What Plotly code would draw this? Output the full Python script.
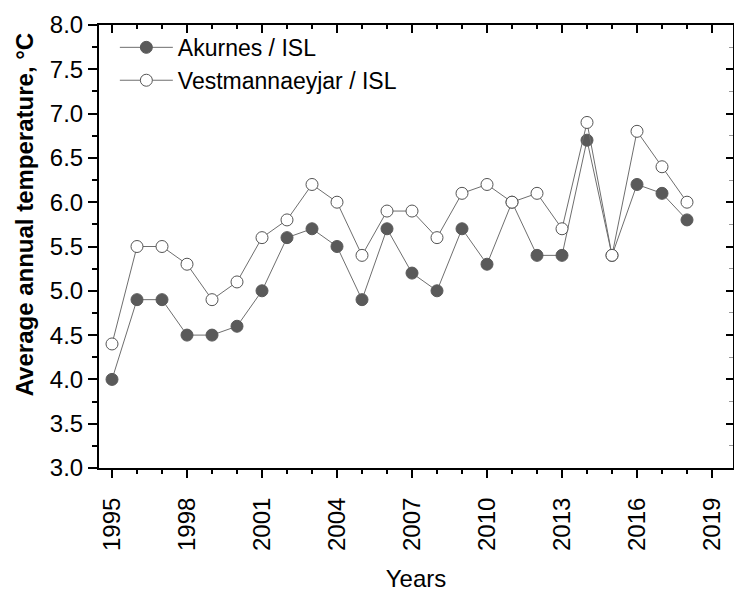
import plotly.graph_objects as go

years = list(range(1995, 2019))
akurnes = [4.0, 4.9, 4.9, 4.5, 4.5, 4.6, 5.0, 5.6, 5.7, 5.5, 4.9, 5.7,
           5.2, 5.0, 5.7, 5.3, 6.0, 5.4, 5.4, 6.7, 5.4, 6.2, 6.1, 5.8]
vestmannaeyjar = [4.4, 5.5, 5.5, 5.3, 4.9, 5.1, 5.6, 5.8, 6.2, 6.0, 5.4, 5.9,
                  5.9, 5.6, 6.1, 6.2, 6.0, 6.1, 5.7, 6.9, 5.4, 6.8, 6.4, 6.0]
x_ticks = [1995, 1998, 2001, 2004, 2007, 2010, 2013, 2016, 2019]
y_ticks = [3.0, 3.5, 4.0, 4.5, 5.0, 5.5, 6.0, 6.5, 7.0, 7.5, 8.0]

FONT = "Liberation Sans, Arial, sans-serif"
XR = [1994.48, 2019.84]
YR = [3.0, 8.0]

fig = go.Figure()
fig.add_trace(go.Scatter(
    x=years, y=akurnes, mode="lines+markers", name="Akurnes / ISL",
    line=dict(color="#6e6e6e", width=1),
    marker=dict(symbol="circle", size=12, color="#5a5a5a",
                line=dict(color="#5a5a5a", width=1)),
))
fig.add_trace(go.Scatter(
    x=years, y=vestmannaeyjar, mode="lines+markers", name="Vestmannaeyjar / ISL",
    line=dict(color="#6e6e6e", width=1),
    marker=dict(symbol="circle", size=12, color="white",
                line=dict(color="#555555", width=1)),
))
# empty trace to activate mirrored axes (top/right)
fig.add_trace(go.Scatter(x=[], y=[], xaxis="x2", yaxis="y2", showlegend=False,
                         hoverinfo="skip"))

tick_font = dict(family=FONT, size=24, color="black")

fig.update_layout(
    width=734, height=592,
    margin=dict(l=99, r=1, t=25, b=124),
    paper_bgcolor="white", plot_bgcolor="white",
    font=dict(family=FONT, color="black"),
    showlegend=True,
    legend=dict(x=0.025, y=0.998, xanchor="left", yanchor="top",
                bgcolor="rgba(0,0,0,0)", font=dict(family=FONT, size=23),
                itemwidth=53, tracegroupgap=0),
    xaxis=dict(
        range=XR, tickmode="array", tickvals=x_ticks,
        ticktext=[str(v) for v in x_ticks], tickangle=-90,
        ticks="outside", ticklen=8, tickwidth=1.5, tickcolor="black",
        ticklabelstandoff=10,
        showline=True, linecolor="black", linewidth=2,
        showgrid=False, zeroline=False, tickfont=tick_font,
        minor=dict(dtick=1, tick0=1995, ticks="outside", ticklen=4,
                   tickwidth=1.5, tickcolor="black", showgrid=False),
        title=dict(text="Years", font=dict(family=FONT, size=24), standoff=20),
    ),
    yaxis=dict(
        range=YR, tickmode="array", tickvals=y_ticks,
        ticktext=[f"{v:.1f}" for v in y_ticks],
        ticks="outside", ticklen=9, tickwidth=1.5, tickcolor="black",
        showline=True, linecolor="black", linewidth=2,
        showgrid=False, zeroline=False, tickfont=tick_font,
        minor=dict(dtick=0.25, tick0=3, ticks="outside", ticklen=5,
                   tickwidth=1.5, tickcolor="black", showgrid=False),
    ),
    xaxis2=dict(
        range=XR, overlaying="x", side="top", anchor="y2",
        tickmode="array", tickvals=x_ticks, showticklabels=False,
        ticks="inside", ticklen=8, tickwidth=1.5, tickcolor="black",
        showline=True, linecolor="black", linewidth=2,
        showgrid=False, zeroline=False,
        minor=dict(dtick=1, tick0=1995, ticks="inside", ticklen=4,
                   tickwidth=1.5, tickcolor="black", showgrid=False),
    ),
    yaxis2=dict(
        range=YR, overlaying="y", side="right", anchor="x2",
        tickmode="array", tickvals=y_ticks, showticklabels=False,
        ticks="inside", ticklen=7, tickwidth=1.5, tickcolor="black",
        showline=True, linecolor="black", linewidth=1,
        showgrid=False, zeroline=False,
        minor=dict(dtick=0.25, tick0=3, ticks="inside", ticklen=4,
                   tickwidth=1, tickcolor="#999999", showgrid=False),
    ),
    annotations=[dict(
        text="<b>Average annual temperature, °C</b>",
        xref="paper", yref="paper", x=-0.118, y=0.573,
        xanchor="center", yanchor="middle", textangle=-90, showarrow=False,
        font=dict(family=FONT, size=24, color="black"),
    )],
)

fig.write_html("out.html")
